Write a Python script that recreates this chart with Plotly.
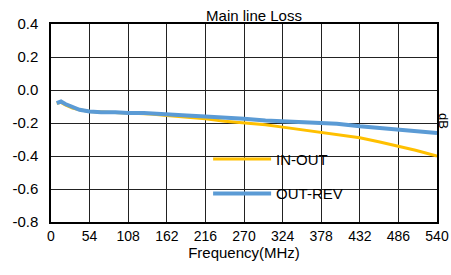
import plotly.graph_objects as go

# Data
freq_in = [8, 14, 20, 30, 40, 54, 80, 108, 140, 162, 190, 216, 243, 270, 300, 324, 350, 378, 400, 432, 460, 486, 510, 540]
in_out = [-0.08, -0.075, -0.09, -0.11, -0.12, -0.13, -0.135, -0.14, -0.145, -0.155, -0.165, -0.175, -0.19, -0.20, -0.21, -0.225, -0.24, -0.255, -0.27, -0.29, -0.315, -0.34, -0.365, -0.40]

freq_rev = [8, 14, 20, 30, 40, 54, 70, 90, 108, 130, 162, 190, 216, 243, 270, 300, 324, 350, 378, 400, 432, 460, 486, 510, 540]
out_rev = [-0.08, -0.07, -0.085, -0.105, -0.12, -0.13, -0.135, -0.135, -0.14, -0.14, -0.15, -0.155, -0.16, -0.17, -0.175, -0.185, -0.19, -0.195, -0.20, -0.205, -0.22, -0.23, -0.24, -0.245, -0.26]

x_ticks = [0, 54, 108, 162, 216, 270, 324, 378, 432, 486, 540]
y_ticks = [0.4, 0.2, 0.0, -0.2, -0.4, -0.6, -0.8]
y_tick_text = ["0.4", "0.2", "0.0", "-0.2", "-0.4", "-0.6", "-0.8"]

fig = go.Figure()
fig.add_trace(go.Scatter(x=freq_in, y=in_out, mode="lines", name="IN-OUT",
                         line=dict(color="#FFC000", width=3), legendgroup="a"))
fig.add_trace(go.Scatter(x=freq_rev, y=out_rev, mode="lines", name="OUT-REV",
                         line=dict(color="#5B9BD5", width=4), legendgroup="b"))

font = "Liberation Sans, Arial, sans-serif"
W, H = 451, 275
fig.update_layout(
    width=W, height=H,
    margin=dict(l=51, r=14, t=24, b=53, autoexpand=False),
    paper_bgcolor="white", plot_bgcolor="white",
    font=dict(family=font, size=14, color="black"),
    title=dict(text="Main line Loss", x=(254 / W), xanchor="center",
               y=1 - 16 / H, yanchor="middle", font=dict(size=15)),
    showlegend=True,
    legend=dict(x=0.407, y=0.40, xanchor="left", yanchor="top",
                bgcolor="rgba(0,0,0,0)", tracegroupgap=12,
                font=dict(size=15), itemwidth=58),
    xaxis=dict(range=[0, 540], tickvals=x_ticks, ticktext=[str(v) for v in x_ticks],
               showgrid=True, gridcolor="#222", gridwidth=1,
               showline=True, linecolor="black", linewidth=1.5, mirror=True,
               ticks="", zeroline=False, tickfont=dict(size=14),
               title=dict(text="Frequency(MHz)", font=dict(size=15), standoff=4)),
    yaxis=dict(range=[-0.8, 0.4], tickvals=y_ticks, ticktext=y_tick_text,
               showgrid=True, gridcolor="#222", gridwidth=1,
               showline=True, linecolor="black", linewidth=1.5, mirror=True,
               ticks="", zeroline=False, ticklabelstandoff=8, tickfont=dict(size=15)),
    annotations=[dict(text="dB", x=1.0, xref="paper", xshift=7, xanchor="center",
                      y=0.51, yref="paper",
                      showarrow=False, textangle=90, font=dict(size=13))],
)

fig.write_html(
    "out.html",
    config={"displayModeBar": False},
    post_script="document.body.style.margin='0';document.body.style.overflow='hidden';",
)
